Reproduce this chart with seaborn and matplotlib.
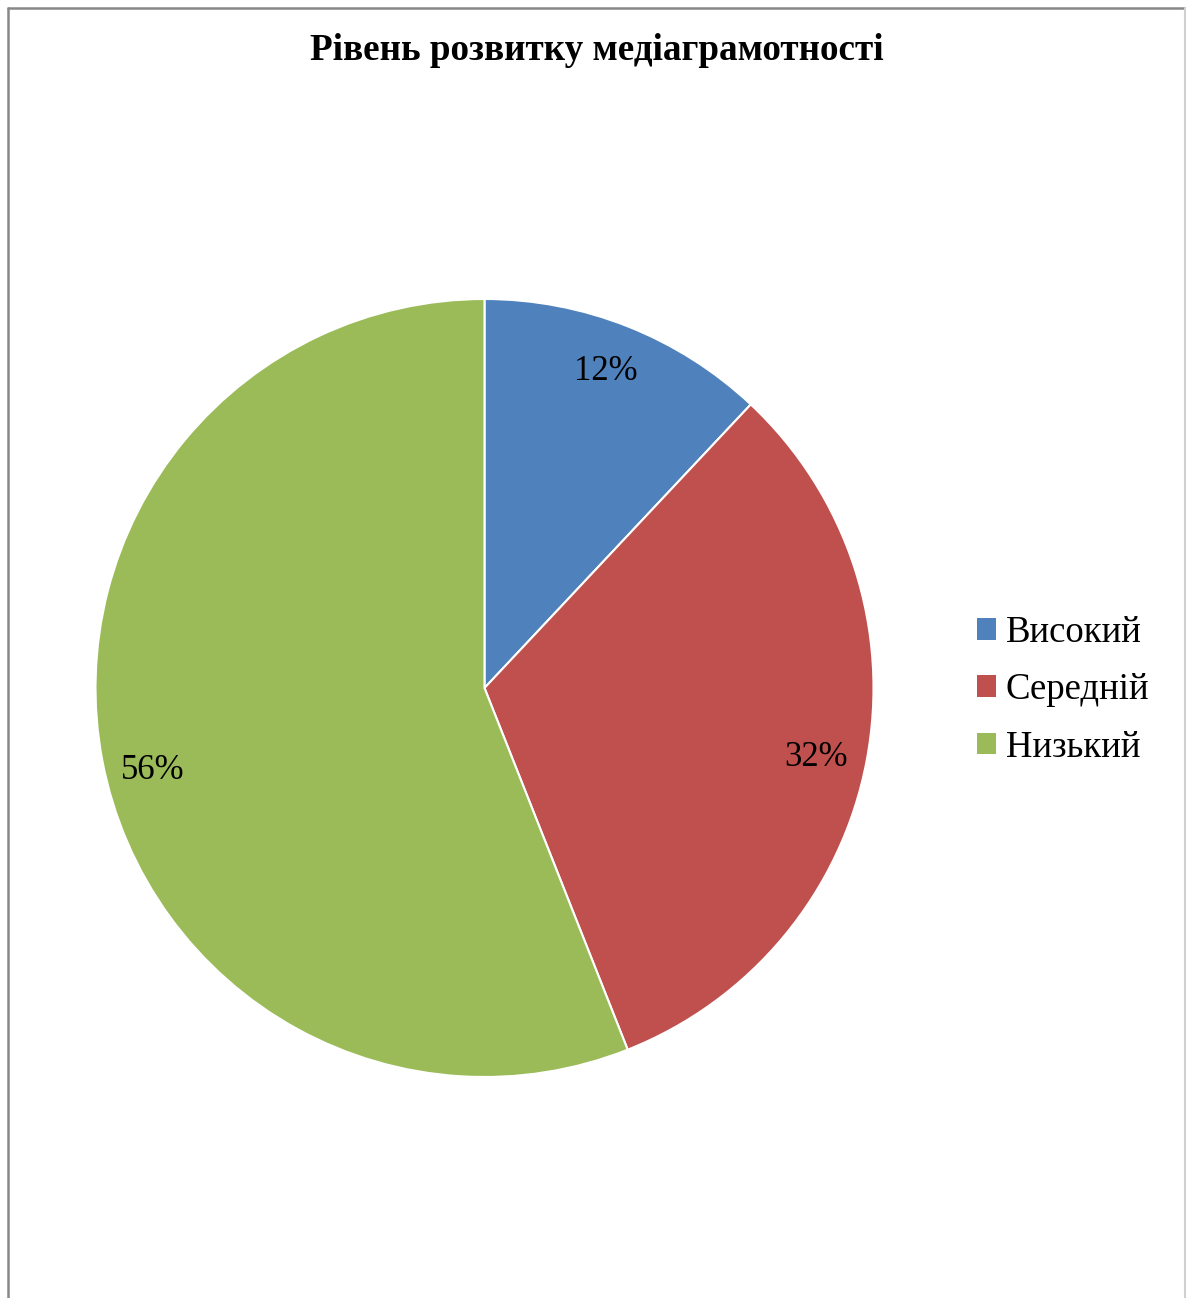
import matplotlib
matplotlib.use("Agg")
import matplotlib.pyplot as plt
import seaborn as sns
from matplotlib.patches import Patch
from matplotlib.lines import Line2D

categories = ["Високий", "Середній", "Низький"]
values = [12, 32, 56]
colors = ["#4F81BD", "#C0504D", "#9BBB59"]
title = "Рівень розвитку медіаграмотності"

sns.set_theme(style="white")
plt.rcParams['font.family'] = ['Liberation Serif', 'DejaVu Serif']
plt.rcParams['text.color'] = 'black'

W, H = 1186, 1298
fig = plt.figure(figsize=(W / 100, H / 100), dpi=100)
fig.patch.set_facecolor("white")

cx, cy, r = 484.5, 688, 389
ax = fig.add_axes([(cx - r) / W, 1 - (cy + r) / H, 2 * r / W, 2 * r / H])
wedges, texts, autotexts = ax.pie(
    values, colors=sns.color_palette(colors), startangle=90, counterclock=False,
    autopct=lambda p: f"{p:.0f}%", pctdistance=0.875,
    wedgeprops=dict(edgecolor="white", linewidth=1.5),
    textprops=dict(fontsize=25, color="black"))
# small nudges of label placement (data units of radius)
nudges = [(-0.01, 0.0), (-0.007, -0.014), (0.007, -0.049)]
for t, (dx, dy) in zip(autotexts, nudges):
    x, y = t.get_position()
    t.set_position((x + dx, y + dy))
ax.set_xlim(-1, 1)
ax.set_ylim(-1, 1)
ax.set_aspect("auto")
ax.axis("off")

fig.text(597 / W, 1 - 50 / H, title, ha="center", va="center",
         fontsize=26.7, fontweight="bold", color="black")

handles = [Patch(facecolor=c, edgecolor="none") for c in colors]
leg = fig.legend(handles, categories, loc="center left",
           bbox_to_anchor=(962 / W, 1 - 690 / H), frameon=False,
           fontsize=26.5, handlelength=0.52, handleheight=0.52,
           handletextpad=0.27, labelspacing=0.62, borderaxespad=0)
for t in leg.get_texts():
    t.set_color("black")

# frame lines
fig.add_artist(Line2D([7.5 / W, 7.5 / W], [0, 1 - 7.5 / H], color="#888888", lw=1.8, transform=fig.transFigure))
fig.add_artist(Line2D([7.5 / W, 1185 / W], [1 - 7.5 / H, 1 - 7.5 / H], color="#888888", lw=1.8, transform=fig.transFigure))
fig.add_artist(Line2D([1185 / W, 1185 / W], [0, 1 - 7.5 / H], color="#d0d0d0", lw=1.5, transform=fig.transFigure))

fig.savefig("out.png", dpi=100, facecolor="white")
